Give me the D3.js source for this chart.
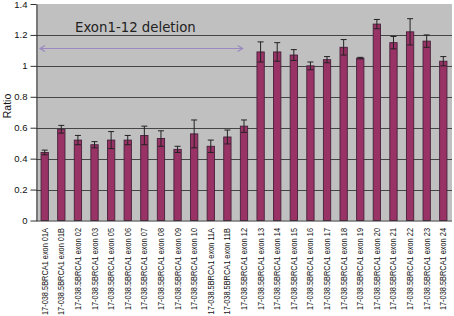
<!DOCTYPE html>
<html><head><meta charset="utf-8">
<script src="https://cdn.jsdelivr.net/npm/d3@7"></script>
<style>body{margin:0;background:#fff}svg{display:block}</style>
</head><body>
<script>
const exons = ["01A","01B","02","03","05","06","07","08","09","10","11A","11B","12","13","14","15","16","17","18","19","20","21","22","23","24"];
const categories = exons.map(e => "17-038.5BRCA1 exon " + e);
const ratio = [0.44,0.59,0.52,0.49,0.52,0.52,0.55,0.53,0.46,0.56,0.48,0.54,0.61,1.09,1.09,1.07,1.00,1.04,1.12,1.05,1.27,1.15,1.22,1.16,1.03];
const errors = [0.015,0.025,0.03,0.02,0.055,0.03,0.06,0.05,0.02,0.09,0.04,0.045,0.04,0.065,0.06,0.035,0.025,0.02,0.05,0.005,0.03,0.04,0.085,0.04,0.03];
const yTicks = [0,0.2,0.4,0.6,0.8,1,1.2,1.4];
const annotation = "Exon1-12 deletion";
const yLabel = "Ratio";

const W = 454, H = 316;
const L = 36, R = 452, T = 4, B = 220.5;
const svg = d3.select("body").append("svg").attr("width", W).attr("height", H);

const x = d3.scaleBand().domain(categories).range([L + 0.4, R - 0.4]).paddingInner(0.56).paddingOuter(0.28);
const y = d3.scaleLinear().domain([0, 1.4]).range([B, T]);

svg.append("rect").attr("x", L).attr("y", T).attr("width", R - L).attr("height", B - T).attr("fill", "#c0c0c0");

// gridlines
svg.append("g").selectAll("line").data(yTicks.filter(t => t > 0 && t < 1.4)).join("line")
  .attr("x1", L).attr("x2", R).attr("y1", d => Math.round(y(d)) + 0.5).attr("y2", d => Math.round(y(d)) + 0.5)
  .attr("stroke", "#454545").attr("stroke-width", 1);

// y axis
const yAxis = d3.axisLeft(y).tickValues(yTicks).tickSize(6).tickSizeOuter(0).tickPadding(3)
  .tickFormat(d => d3.format("")(+d.toFixed(1)));
const ga = svg.append("g").attr("transform", `translate(${L + 0.5},0)`).call(yAxis);
ga.selectAll("path,line").attr("stroke", "#333");
ga.selectAll("text").attr("font-family", "Liberation Sans, Arial, sans-serif").attr("font-size", 9.5).attr("fill", "#111");

// bars
svg.append("g").selectAll("rect").data(ratio).join("rect")
  .attr("x", (d, i) => x(categories[i]))
  .attr("y", d => y(d))
  .attr("width", x.bandwidth())
  .attr("height", d => B - y(d))
  .attr("fill", "#993366").attr("stroke", "#45203a").attr("stroke-width", 0.9);

// error bars
const eg = svg.append("g").attr("stroke", "#222").attr("stroke-width", 1);
ratio.forEach((d, i) => {
  const cx = x(categories[i]) + x.bandwidth() / 2;
  const y1 = y(d + errors[i]), y2 = y(d - errors[i]);
  eg.append("line").attr("x1", cx).attr("x2", cx).attr("y1", y1).attr("y2", y2);
  eg.append("line").attr("x1", cx - 3).attr("x2", cx + 3).attr("y1", y1).attr("y2", y1);
  eg.append("line").attr("x1", cx - 3).attr("x2", cx + 3).attr("y1", y2).attr("y2", y2);
});

// x axis line
svg.append("line").attr("x1", L).attr("x2", R).attr("y1", B + 0.5).attr("y2", B + 0.5).attr("stroke", "#333");

// x labels
svg.append("g").selectAll("text").data(categories).join("text")
  .attr("transform", d => `translate(${x(d) + x.bandwidth() / 2 + 3},228) rotate(-90) scale(0.87,1)`)
  .attr("text-anchor", "end")
  .attr("font-family", "Liberation Sans, Arial, sans-serif").attr("font-size", 8.5).attr("fill", "#111")
  .text(d => d);

// y label
svg.append("text").attr("transform", "translate(11,106) rotate(-90)").attr("text-anchor", "middle")
  .attr("font-family", "Liberation Sans, Arial, sans-serif").attr("font-size", 10.5).attr("fill", "#111").text(yLabel);

// annotation arrow spanning exon 01A .. exon 12
const ax1 = x(categories[0]) - 1, ax2 = x(categories[12]) + x.bandwidth() - 5;
const ay = 48.5;
const ag = svg.append("g").attr("stroke", "#9a88c0").attr("stroke-width", 1.2).attr("fill", "none");
ag.append("line").attr("x1", ax1).attr("x2", ax2).attr("y1", ay).attr("y2", ay);
ag.append("path").attr("d", `M${ax1 + 5},${ay - 3}L${ax1},${ay}L${ax1 + 5},${ay + 3}`);
ag.append("path").attr("d", `M${ax2 - 5},${ay - 3}L${ax2},${ay}L${ax2 - 5},${ay + 3}`);

svg.append("text").attr("x", 75).attr("y", 32).attr("font-family", "DejaVu Sans, Verdana, sans-serif")
  .attr("font-size", 13.3).attr("fill", "#222").text(annotation);
</script>
</body></html>
